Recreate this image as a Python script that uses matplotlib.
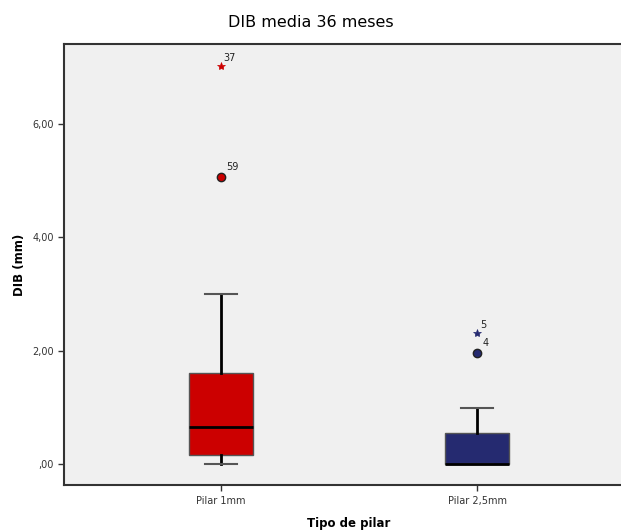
# DIB media 36 meses - boxplot por tipo de pilar

import matplotlib
matplotlib.use('Agg')
import matplotlib.pyplot as plt
from matplotlib.ticker import FuncFormatter

grupos = ['Pilar 1mm', 'Pilar 2,5mm']
colores = ['#CC0000', '#252A70']

# estadisticos
q1 = [0.16, 0.0]
mediana = [0.66, 0.0]
q3 = [1.61, 0.56]
bigote_inf = [0.0, 0.0]
bigote_sup = [3.0, 1.0]

# atipicos (circulo) y extremos (estrella), con su numero de caso
atipicos = [[5.06], [1.96]]
atipicos_id = [['59'], ['4']]
extremos = [[7.02], [2.31]]
extremos_id = [['37'], ['5']]

stats = []
for i in range(len(grupos)):
    stats.append(dict(q1=q1[i], med=mediana[i], q3=q3[i],
                      whislo=bigote_inf[i], whishi=bigote_sup[i],
                      fliers=[], label=grupos[i]))


def fmt(v, p):
    s = ('%.2f' % v).replace('.', ',')
    if s.startswith('0,'):
        s = s[1:]
    return s


fig = plt.figure(figsize=(6.21, 5.31), dpi=100)
ax = fig.add_axes([0.1031, 0.0857, 0.918, 0.8315])
ax.set_facecolor('#F0F0F0')

pos = [1, 2]
bp = ax.bxp(stats, positions=pos, widths=0.25, patch_artist=True,
            showfliers=False,
            medianprops=dict(color='black', linewidth=2),
            whiskerprops=dict(color='black', linewidth=2),
            capprops=dict(color='#555555', linewidth=1.5),
            boxprops=dict(edgecolor='#555555', linewidth=1))
for patch, c in zip(bp['boxes'], colores):
    patch.set_facecolor(c)
for cap in bp['caps']:
    x0, x1 = cap.get_xdata()
    m = (x0 + x1) / 2
    cap.set_xdata([m - 0.0625, m + 0.0625])

for i in range(len(grupos)):
    for v, lab in zip(atipicos[i], atipicos_id[i]):
        ax.plot(pos[i], v, 'o', color=colores[i], markeredgecolor='#222222',
                markersize=6, markeredgewidth=1)
        ax.annotate(lab, (pos[i], v), xytext=(4, 5), textcoords='offset points',
                    fontsize=7, color='#222222')
    for v, lab in zip(extremos[i], extremos_id[i]):
        ax.plot(pos[i], v, '*', color=colores[i], markersize=6,
                markeredgewidth=0.5)
        ax.annotate(lab, (pos[i], v), xytext=(2, 4), textcoords='offset points',
                    fontsize=7, color='#222222')

ax.set_xlim(0.387, 2.613)
ax.set_ylim(-0.37, 7.41)
ax.set_yticks([0, 2, 4, 6])
ax.yaxis.set_major_formatter(FuncFormatter(fmt))
ax.set_xticks(pos)
ax.set_xticklabels(grupos)
ax.tick_params(axis='both', direction='out', length=4, width=1,
               color='#333333', labelsize=7, labelcolor='#333333')

for s in ax.spines.values():
    s.set_color('#333333')
    s.set_linewidth(1.5)

ax.set_ylabel('DIB (mm)', fontsize=8.5, fontweight='bold', labelpad=4)
ax.set_xlabel('Tipo de pilar', fontsize=8.5, fontweight='bold', labelpad=8)
fig.text(0.5, 0.958, 'DIB media 36 meses', ha='center', va='center',
         fontsize=11.5)

fig.savefig('out.png', dpi=100)
